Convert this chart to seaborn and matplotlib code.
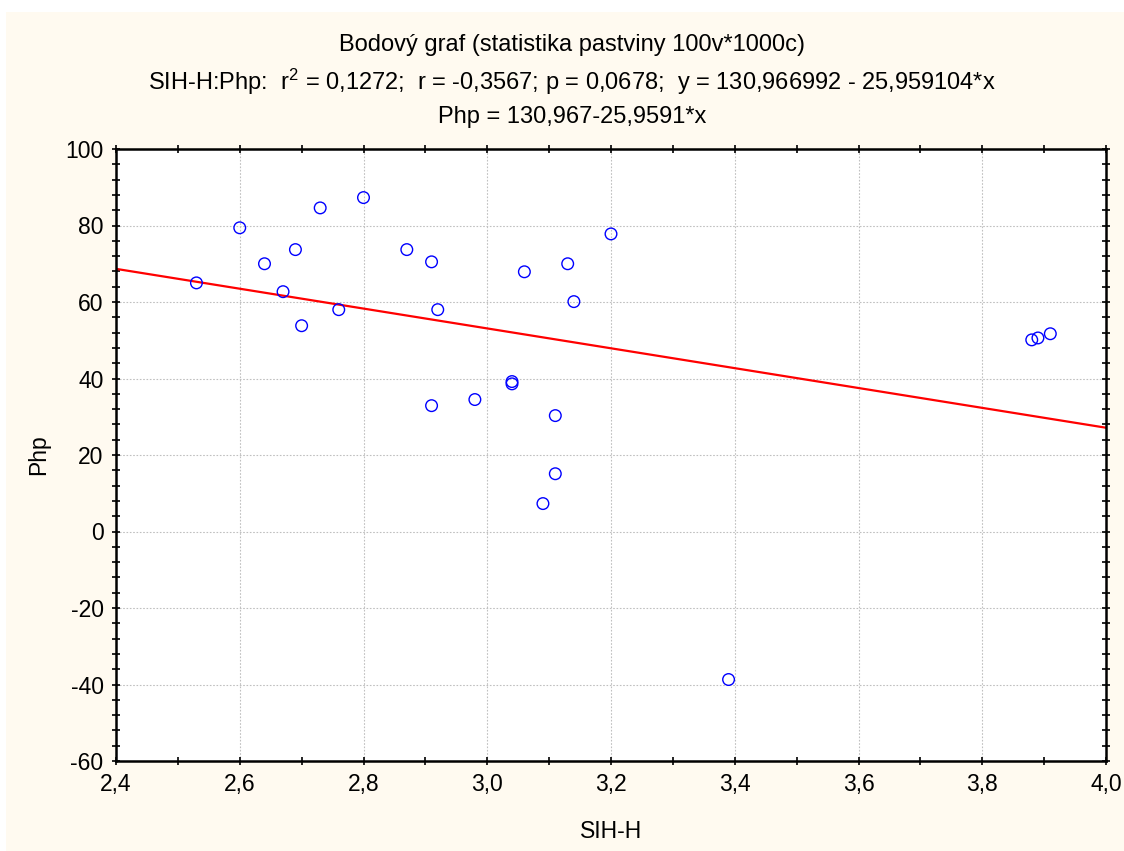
import numpy as np
import pandas as pd
import matplotlib
matplotlib.use('Agg')
import seaborn as sns
import matplotlib.pyplot as plt
from matplotlib.patches import Rectangle
from matplotlib.ticker import MultipleLocator, FuncFormatter

# data
sih_h = [2.53, 2.60, 2.64, 2.67, 2.69, 2.70, 2.73, 2.76, 2.80, 2.87, 2.91, 2.92,
         2.91, 2.98, 3.04, 3.04, 3.06, 3.11, 3.11, 3.09, 3.13, 3.14, 3.20, 3.39,
         3.88, 3.89, 3.91]
php = [65.0, 79.4, 70.0, 62.7, 73.7, 53.8, 84.6, 58.0, 87.3, 73.7, 70.5, 58.0,
       32.9, 34.5, 39.2, 38.6, 67.9, 30.3, 15.1, 7.3, 70.0, 60.1, 77.8, -38.7,
       50.1, 50.6, 51.7]

# regression from the header
intercept = 130.966992
slope = -25.959104

df = pd.DataFrame({'SIH-H': sih_h, 'Php': php})

sns.set_style('white')
plt.rcParams['font.family'] = ['Liberation Sans', 'DejaVu Sans']
plt.rcParams['mathtext.fontset'] = 'custom'
plt.rcParams['mathtext.rm'] = 'Liberation Sans'
plt.rcParams['mathtext.it'] = 'Liberation Sans'
plt.rcParams['text.color'] = 'black'
plt.rcParams['axes.labelcolor'] = 'black'

cream = '#FFFAF0'
fig = plt.figure(figsize=(11.24, 8.51), dpi=100, facecolor='white')
# cream panel behind everything, thin white margin top/left
fig.patches.append(Rectangle((6 / 1124, 0), 1 - 6 / 1124, 1 - 12 / 851,
                             transform=fig.transFigure, facecolor=cream,
                             edgecolor='none', zorder=-10))
ax = fig.add_axes([116 / 1124, 1 - 761 / 851, 990 / 1124, 612 / 851])
ax.set_facecolor('white')

xs = np.array([2.4, 4.0])
ax.plot(xs, intercept + slope * xs, color='red', lw=1.6, zorder=2)

sns.scatterplot(data=df, x='SIH-H', y='Php', ax=ax, marker='o', s=70,
                facecolor='none', edgecolor='blue', linewidth=1.0, zorder=3)

ax.set_xlim(2.4, 4.0)
ax.set_ylim(-60, 100)
ax.xaxis.set_major_locator(MultipleLocator(0.2))
ax.xaxis.set_minor_locator(MultipleLocator(0.1))
ax.yaxis.set_major_locator(MultipleLocator(20))
ax.yaxis.set_minor_locator(MultipleLocator(4))
ax.xaxis.set_major_formatter(FuncFormatter(lambda v, p: f'{v:.1f}'.replace('.', ',')))
ax.yaxis.set_major_formatter(FuncFormatter(lambda v, p: f'{v:.0f}'))

ax.tick_params(which='both', direction='inout', length=6, width=1.2,
               bottom=True, left=True, top=True, right=True,
               labeltop=False, labelright=False,
               labelsize=16.5, colors='black', pad=6)
for s in ax.spines.values():
    s.set_color('black')
    s.set_linewidth(1.8)

ax.grid(True, which='major', color='#c0c0c0', linestyle=(0, (1.5, 1.5)), linewidth=0.8)
ax.set_axisbelow(True)

ax.set_xlabel('SIH-H', fontsize=16.5, labelpad=17)
ax.set_ylabel('Php', fontsize=16.5, labelpad=11)

cx = 0.509
fig.text(cx, 1 - 45 / 851, 'Bodový graf (statistika pastviny 100v*1000c)',
         ha='center', va='center', fontsize=17)
fig.text(cx, 1 - 82 / 851,
         'SIH-H:Php:  r$^{2}$ = 0,1272;  r = -0,3567; p = 0,0678;  y = 130,966992 - 25,959104*x',
         ha='center', va='center', fontsize=17)
fig.text(cx, 1 - 117 / 851, 'Php = 130,967-25,9591*x',
         ha='center', va='center', fontsize=17)

fig.savefig('out.png', dpi=100, facecolor=fig.get_facecolor())
